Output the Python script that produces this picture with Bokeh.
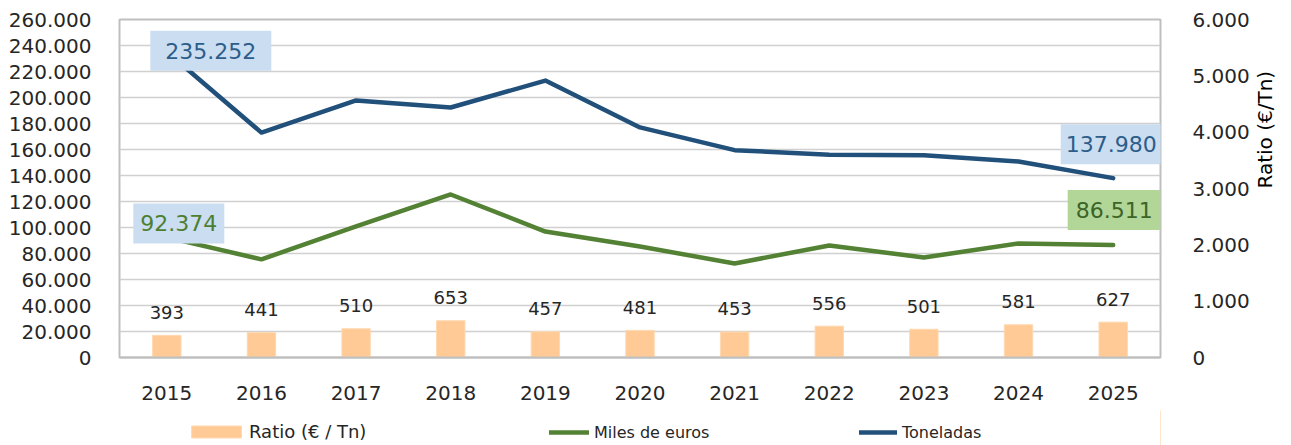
from bokeh.plotting import figure
from bokeh.models import (ColumnDataSource, FactorRange, Range1d, LinearAxis, FixedTicker,
                          LabelSet, Label, Legend, LegendItem)
from bokeh.layouts import column
from bokeh.core.properties import value
from bokeh.embed import file_html
from bokeh.resources import INLINE
import math

# ---------------- data ----------------
years = ["2015", "2016", "2017", "2018", "2019", "2020", "2021", "2022", "2023", "2024", "2025"]
ratio = [393, 441, 510, 653, 457, 481, 453, 556, 501, 581, 627]
miles_euros = [92374, 75500, 100800, 125400, 96900, 85400, 72300, 86200, 76900, 87700, 86511]
toneladas = [235252, 173000, 197700, 192300, 213000, 177000, 159500, 156000, 155500, 150800, 137980]

left_ticks = [0, 20000, 40000, 60000, 80000, 100000, 120000, 140000, 160000, 180000, 200000, 220000, 240000, 260000]
left_tick_labels = ["0", "20.000", "40.000", "60.000", "80.000", "100.000", "120.000", "140.000",
                    "160.000", "180.000", "200.000", "220.000", "240.000", "260.000"]
right_ticks = [0, 1000, 2000, 3000, 4000, 5000, 6000]
right_tick_labels = ["0", "1.000", "2.000", "3.000", "4.000", "5.000", "6.000"]
right_title = "Ratio (€/Tn)"
legend_labels = ["Ratio (€ / Tn)", "Miles de euros", "Toneladas"]


def fmt(v):
    return "{:,}".format(int(round(v))).replace(",", ".")


FONT = "DejaVu Sans"
TXT = "#262626"
BLUE = "#21507B"
GREEN = "#548235"
BAR_FILL = "#FFCA95"
BAR_LINE = "#FFD8B0"

src = ColumnDataSource(dict(year=years, ratio=ratio, miles=miles_euros, ton=toneladas,
                            ratio_txt=[fmt(v) for v in ratio]))

p = figure(width=1291, height=410, x_range=FactorRange(factors=years, range_padding=0),
           y_range=Range1d(0, 260000), output_backend="svg", toolbar_location=None,
           min_border_left=119, min_border_right=131, min_border_top=19, min_border_bottom=53)
p.extra_y_ranges = {"ratio": Range1d(0, 6000)}

p.outline_line_color = "#BFBFBF"
p.outline_line_width = 2
p.background_fill_color = "white"
p.border_fill_color = "white"

# grid
p.xgrid.grid_line_color = None
p.ygrid.ticker = FixedTicker(ticks=left_ticks)
p.ygrid.grid_line_color = "#D0D0D0"
p.ygrid.grid_line_width = 1.5

# left axis
ya = p.yaxis[0]
ya.ticker = FixedTicker(ticks=left_ticks)
ya.major_label_overrides = {t: l for t, l in zip(left_ticks, left_tick_labels)}
ya.axis_line_color = None
ya.major_tick_line_color = None
ya.minor_tick_line_color = None
ya.major_label_standoff = 22
ya.major_label_text_font = FONT
ya.major_label_text_font_size = "20px"
ya.major_label_text_color = TXT

# right axis
ra = LinearAxis(y_range_name="ratio", ticker=FixedTicker(ticks=right_ticks),
                axis_label=right_title)
ra.major_label_overrides = {t: l for t, l in zip(right_ticks, right_tick_labels)}
ra.axis_line_color = None
ra.major_tick_line_color = None
ra.minor_tick_line_color = None
ra.major_label_standoff = 26
ra.major_label_text_font = FONT
ra.major_label_text_font_size = "20px"
ra.major_label_text_color = TXT
ra.axis_label_text_font = FONT
ra.axis_label_text_font_size = "20px"
ra.axis_label_text_font_style = "normal"
ra.axis_label_text_color = "#000000"
ra.axis_label_standoff = 12
ra.axis_label_orientation = math.pi / 2
p.add_layout(ra, "right")

# x axis
xa = p.xaxis[0]
xa.axis_line_color = "#BFBFBF"
xa.axis_line_width = 2
xa.major_tick_line_color = None
xa.minor_tick_line_color = None
xa.major_label_standoff = 22
xa.major_label_text_font = FONT
xa.major_label_text_font_size = "20px"
xa.major_label_text_color = TXT

# glyphs
p.vbar(x="year", top="ratio", width=0.3, source=src, y_range_name="ratio",
       fill_color=BAR_FILL, line_color=BAR_LINE, line_width=1)
p.line(x="year", y="miles", source=src, line_color=GREEN, line_width=4.5,
       line_cap="round", line_join="round")
p.line(x="year", y="ton", source=src, line_color=BLUE, line_width=4.5,
       line_cap="round", line_join="round")

bar_labels = LabelSet(x="year", y="ratio", text="ratio_txt", source=src, y_range_name="ratio",
                      y_offset=23, text_align="center", text_baseline="middle",
                      text_font=value(FONT), text_font_size=value("18px"), text_color=TXT)
p.add_layout(bar_labels)

# callouts (x given as the category centre in the factor range's synthetic coordinates)
call_idx = [0, 0, 10, 10]
call_vals = [toneladas[0], miles_euros[0], toneladas[10], miles_euros[10]]
call_offsets = [(44, 1), (12, 14), (-2, 34), (1, 35)]
call_pad = [(15, 12), (7, 12), (5, 12), (8, 12)]
call_text_colors = ["#2D5D8A", "#4E7F30", "#2D5D8A", "#3B6426"]
call_bg = ["#CADDF1", "#CADDF1", "#CADDF1", "#B2D598"]
for i, v, (dx, dy), pad, tc, bg in zip(call_idx, call_vals, call_offsets, call_pad,
                                        call_text_colors, call_bg):
    p.add_layout(Label(x=i + 0.5, y=v, text=fmt(v), x_offset=dx, y_offset=dy,
                       text_align="center", text_baseline="middle",
                       text_font=FONT, text_font_size="22px", text_color=tc,
                       background_fill_color=bg, background_fill_alpha=1.0,
                       padding=pad))

# ---------------- legend strip (separate figure, no axes) ----------------
q = figure(width=1291, height=35, x_range=Range1d(0, 1), y_range=Range1d(0, 1),
           x_axis_type=None, y_axis_type=None, output_backend="svg", toolbar_location=None,
           min_border=0)
q.outline_line_color = None
q.grid.visible = False
# legend proxies: placed outside the visible range so only their legend swatches show
lg_bar = q.vbar(x=[5], top=[1], width=0.1, fill_color=BAR_FILL, line_color=BAR_LINE)
lg_eur = q.line(x=[5, 6], y=[5, 5], line_color=GREEN, line_width=4.5, line_cap="round")
lg_ton = q.line(x=[5, 6], y=[5, 5], line_color=BLUE, line_width=4.5, line_cap="round")


def mk_legend(label, rend, loc, gw, gh, standoff, fs):
    lg = Legend(items=[LegendItem(label=label, renderers=[rend])], location=loc,
                orientation="horizontal", glyph_width=gw, glyph_height=gh,
                label_standoff=standoff, label_text_font=FONT, label_text_font_size=fs,
                label_text_color=TXT, border_line_color=None, background_fill_alpha=0,
                padding=0, margin=0, spacing=0, label_height=20)
    q.add_layout(lg)


mk_legend(legend_labels[0], lg_bar, (66, 3), 62, 15, 2, "18px")
mk_legend(legend_labels[1], lg_eur, (430, 3), 40, 20, 5, "16px")
mk_legend(legend_labels[2], lg_ton, (740, 3), 38, 20, 5, "16px")

layout = column(p, q, spacing=0)
open("out.html", "w").write(file_html(layout, INLINE))
